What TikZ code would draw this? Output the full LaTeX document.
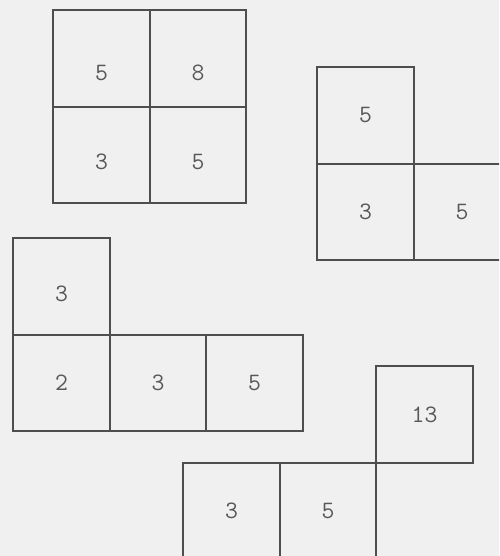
\documentclass[tikz,border=0pt]{standalone}
\usepackage{tikz}
\usetikzlibrary{positioning}

\definecolor{paper}{RGB}{240,240,240}
\definecolor{ink}{RGB}{78,78,78}
\definecolor{digit}{RGB}{88,88,88}

\begin{document}
\begin{tikzpicture}[
  x=1pt, y=-1pt,
  node distance=0pt,
  cell/.style={draw=ink, line width=1.9pt, minimum size=96.5pt,
    inner sep=0pt, outer sep=0pt, text=digit,
    font=\fontsize{25}{30}\selectfont\ttfamily},
  low/.style={text height=44pt},
  lowish/.style={text height=30pt}
]

%% ---- Paper ----
\fill[paper] (0,0) rectangle (499,556);
\useasboundingbox (0,0) rectangle (499,556);
\clip (0,0) rectangle (499,556);

%% ---- Square block (top left) ----
\node[cell, low] (a1) at (101.5,58.5) {5};
\node[cell, low, right=of a1] (a2) {8};
\node[cell, lowish, below=of a1] (a3) {3};
\node[cell, lowish, right=of a3] (a4) {5};

%% ---- L block (top right) ----
\node[cell] (b1) at (365.5,115.5) {5};
\node[cell, below=of b1] (b2) {3};
\node[cell, right=of b2] (b3) {5};

%% ---- Long L block (middle left) ----
\node[cell, lowish] (c1) at (61.5,286.5) {3};
\node[cell, below=of c1] (c2) {2};
\node[cell, right=of c2] (c3) {3};
\node[cell, right=of c3] (c4) {5};

%% ---- Step block (bottom right) ----
\node[cell] (d1) at (424.5,414.5) {13};
\node[cell, below left=of d1] (d2) {5};
\node[cell, left=of d2] (d3) {3};

\end{tikzpicture}
\end{document}
